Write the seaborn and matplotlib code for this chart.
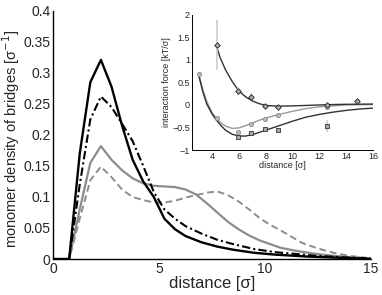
import matplotlib
matplotlib.use("Agg")
import matplotlib.pyplot as plt
import seaborn as sns
import pandas as pd
import numpy as np

sns.set_theme(style="white")
plt.rcParams['font.family'] = ['Liberation Sans', 'DejaVu Sans']

# ---- main chart data ----
x_black = [0, 0.75, 1.25, 1.75, 2.25, 2.75, 3.25, 3.75, 4.25, 4.75, 5.25, 5.75, 6.25, 7.0, 7.75, 8.5, 9.5, 10.5, 12.0, 13.5, 15.0]
y_black = [0, 0, 0.17, 0.285, 0.321, 0.278, 0.215, 0.16, 0.125, 0.10, 0.065, 0.048, 0.037, 0.027, 0.02, 0.015, 0.01, 0.007, 0.004, 0.002, 0.0]

x_dashdot = [0, 0.75, 1.25, 1.75, 2.25, 2.75, 3.25, 3.75, 4.25, 4.75, 5.25, 5.75, 6.25, 7.0, 7.75, 8.5, 9.5, 10.5, 11.5, 12.5, 13.5, 15.0]
y_dashdot = [0, 0, 0.12, 0.225, 0.262, 0.245, 0.218, 0.19, 0.15, 0.108, 0.08, 0.065, 0.053, 0.041, 0.031, 0.024, 0.016, 0.011, 0.008, 0.005, 0.003, 0.001]

x_grey = [0, 0.75, 1.25, 1.75, 2.25, 2.75, 3.25, 3.75, 4.25, 4.75, 5.25, 5.75, 6.25, 6.75, 7.25, 7.75, 8.25, 8.75, 9.25, 9.75, 10.25, 10.75, 11.5, 12.25, 13.0, 14.0, 15.0]
y_grey = [0, 0, 0.08, 0.155, 0.182, 0.16, 0.143, 0.13, 0.122, 0.118, 0.117, 0.116, 0.112, 0.104, 0.09, 0.075, 0.06, 0.048, 0.038, 0.03, 0.024, 0.018, 0.013, 0.009, 0.006, 0.003, 0.001]

x_greydash = [0, 0.75, 1.25, 1.75, 2.25, 2.75, 3.25, 3.75, 4.25, 4.75, 5.25, 5.75, 6.25, 6.75, 7.25, 7.75, 8.25, 8.75, 9.25, 9.75, 10.25, 10.75, 11.25, 11.75, 12.5, 13.25, 14.0, 15.0]
y_greydash = [0, 0, 0.065, 0.127, 0.149, 0.132, 0.112, 0.10, 0.095, 0.091, 0.091, 0.094, 0.099, 0.103, 0.107, 0.109, 0.103, 0.093, 0.08, 0.066, 0.055, 0.046, 0.036, 0.026, 0.017, 0.01, 0.005, 0.001]

main_yticks = [0, 0.05, 0.1, 0.15, 0.2, 0.25, 0.3, 0.35, 0.4]
main_ytick_labels = ["0", "0.05", "0.1", "0.15", "0.2", "0.25", "0.3", "0.35", "0.4"]
main_xticks = [0, 5, 10, 15]

# ---- inset data ----
pts_top_x = [4.33, 5.9, 6.9, 7.98, 8.9, 12.6, 14.8]
pts_top_y = [1.33, 0.31, 0.18, -0.03, -0.05, -0.01, 0.08]
pts_top_err = [0.55, 0.09, 0.08, 0.05, 0.03, 0.03, 0.04]

pts_mid_x = [3.0, 4.33, 5.9, 6.9, 7.98, 8.9, 12.6]
pts_mid_y = [0.69, -0.29, -0.6, -0.43, -0.31, -0.23, -0.05]
pts_mid_err = [0.05, 0.03, 0.04, 0.02, 0.02, 0.02, 0.02]

pts_bot_x = [5.9, 6.9, 7.98, 8.9, 12.6]
pts_bot_y = [-0.72, -0.63, -0.53, -0.56, -0.47]
pts_bot_err = [0.03, 0.03, 0.04, 0.04, 0.13]

fit_top_x = [4.3, 4.6, 5.0, 5.5, 6.0, 6.5, 7.0, 7.5, 8.0, 8.5, 9.0, 10, 11, 12, 13, 14, 16]
fit_top_y = [1.33, 1.05, 0.78, 0.52, 0.31, 0.18, 0.09, 0.03, -0.01, -0.02, -0.025, -0.02, -0.01, 0.0, 0.01, 0.015, 0.02]

fit_mid_x = [3.0, 3.3, 3.6, 4.0, 4.3, 4.7, 5.0, 5.5, 6.0, 6.5, 7.0, 7.5, 8.0, 9.0, 10, 11, 12, 13, 14, 16]
fit_mid_y = [0.69, 0.35, 0.08, -0.17, -0.29, -0.41, -0.47, -0.52, -0.51, -0.46, -0.40, -0.34, -0.29, -0.21, -0.14, -0.08, -0.04, -0.02, 0.0, 0.01]

fit_bot_x = [3.0, 3.3, 3.6, 4.0, 4.3, 4.7, 5.0, 5.5, 6.0, 6.5, 7.0, 7.5, 8.0, 9.0, 10, 11, 12, 13, 14, 15, 16]
fit_bot_y = [0.66, 0.30, 0.02, -0.2, -0.33, -0.47, -0.56, -0.65, -0.69, -0.69, -0.66, -0.61, -0.56, -0.46, -0.36, -0.27, -0.21, -0.16, -0.12, -0.09, -0.07]

inset_xticks = [4, 6, 8, 10, 12, 14, 16]
inset_yticks = [-1, -0.5, 0, 0.5, 1, 1.5, 2]
inset_ytick_labels = ["\u22121", "\u22120.5", "0", "0.5", "1", "1.5", "2"]

fig = plt.figure(figsize=(3.82, 2.95), dpi=100)
ax = fig.add_axes([0.1395, 0.122, 0.831, 0.841])

def line(axh, xs, ys, **kw):
    df = pd.DataFrame({"x": xs, "y": ys})
    sns.lineplot(data=df, x="x", y="y", ax=axh, sort=False, estimator=None, **kw)

line(ax, x_greydash, y_greydash, color="#8c8c8c", lw=1.4, linestyle=(0, (3.5, 2)))
line(ax, x_grey, y_grey, color="#8c8c8c", lw=1.6)
line(ax, x_dashdot, y_dashdot, color="black", lw=1.5, linestyle=(0, (4, 1.5, 1, 1.5)))
line(ax, x_black, y_black, color="black", lw=1.7)

ax.set_xlim(0, 15)
ax.set_ylim(0, 0.4)
ax.set_xticks(main_xticks)
ax.set_yticks(main_yticks)
ax.set_yticklabels(main_ytick_labels)
ax.tick_params(direction="in", length=3, width=0.8, labelsize=10, pad=2, color="black")
ax.set_xlabel("distance [\u03c3]", fontsize=12, labelpad=0)
ax.set_ylabel("monomer density of bridges [\u03c3$^{-1}$]", fontsize=10.5)
ax.yaxis.set_label_coords(-0.097, 0.485)
for s in ["top", "right"]:
    ax.spines[s].set_visible(False)
for s in ["left", "bottom"]:
    ax.spines[s].set_color("black")
    ax.spines[s].set_linewidth(1.0)

# ---- inset ----
ia = fig.add_axes([0.5026, 0.4915, 0.474, 0.458])
ia.set_facecolor("white")
line(ia, fit_mid_x, fit_mid_y, color="#999999", lw=1.0)
line(ia, fit_bot_x, fit_bot_y, color="#333333", lw=1.0)
line(ia, fit_top_x, fit_top_y, color="#333333", lw=1.0)

ia.errorbar(pts_top_x, pts_top_y, yerr=pts_top_err, fmt="none", ecolor="#cccccc", elinewidth=1.2, zorder=3)
ia.errorbar(pts_mid_x, pts_mid_y, yerr=pts_mid_err, fmt="none", ecolor="#cccccc", elinewidth=1.2, zorder=3)
ia.errorbar(pts_bot_x, pts_bot_y, yerr=pts_bot_err, fmt="none", ecolor="#cccccc", elinewidth=1.2, zorder=3)
sns.scatterplot(x=pts_mid_x, y=pts_mid_y, ax=ia, marker="o", s=9, color="#bbbbbb", edgecolor="#888888", linewidth=0.6, zorder=4)
sns.scatterplot(x=pts_bot_x, y=pts_bot_y, ax=ia, marker="s", s=8, color="#aaaaaa", edgecolor="#333333", linewidth=0.6, zorder=4)
sns.scatterplot(x=pts_top_x, y=pts_top_y, ax=ia, marker="D", s=8, color="#aaaaaa", edgecolor="#222222", linewidth=0.6, zorder=4)

ia.set_xlim(2.5, 16)
ia.set_ylim(-1, 2)
ia.set_xticks(inset_xticks)
ia.set_yticks(inset_yticks)
ia.set_yticklabels(inset_ytick_labels)
ia.tick_params(direction="in", length=2, width=0.6, labelsize=6.5, pad=1.5, color="black")
ia.set_xlabel("distance [\u03c3]", fontsize=6.5, labelpad=0)
ia.set_ylabel("interaction force [kT/\u03c3]", fontsize=6.5, labelpad=1)
for s in ["top", "right"]:
    ia.spines[s].set_visible(False)
for s in ["left", "bottom"]:
    ia.spines[s].set_color("black")
    ia.spines[s].set_linewidth(0.7)

fig.savefig("out.png", dpi=100)
